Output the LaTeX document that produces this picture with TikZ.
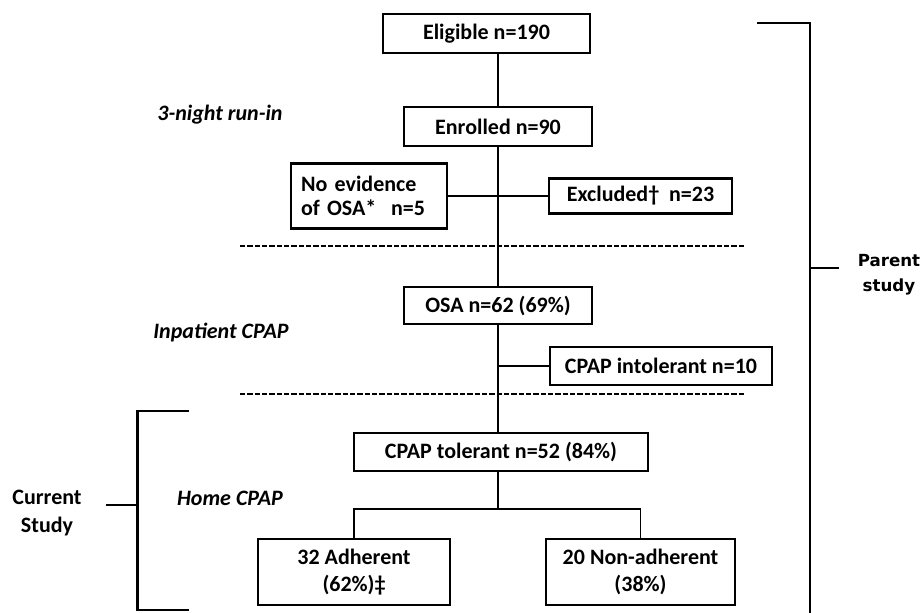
\documentclass[tikz,border=0pt]{standalone}
\usepackage{fontspec}
\setmainfont{Carlito}
\newfontfamily\parentfont{DejaVu Sans}
\tikzset{every picture/.style={line width=0.75pt}}

\begin{document}
\begin{tikzpicture}[x=0.75pt,y=-0.75pt,
    flowbox/.style={draw, line width=2pt, inner sep=0pt, align=center,
        font=\fontsize{16.5}{20}\selectfont\bfseries},
    link/.style={line width=1.2pt},
    phase/.style={font=\fontsize{16.5}{20}\selectfont\bfseries\itshape},
    divider/.style={line width=1pt, dash pattern={on 4pt off 1.5pt}},
    bracket/.style={line width=1.6pt}]
    \useasboundingbox (0,0) rectangle (921,613);
    % boxes
    \node[flowbox, minimum width=155.25pt, minimum height=29.25pt] (elig) at (486.5,33.5) {Eligible n=190};
    \node[flowbox, minimum width=141pt, minimum height=29.25pt] (enrol) at (498,126.5) {Enrolled n=90};
    \node[flowbox, text width=102pt, inner xsep=7.5pt, align=left, minimum height=48.75pt,
        font=\fontsize{16.5}{17.5}\selectfont\bfseries] (noosa) at (369,196) {No evidence\\of OSA*~~n=5};
    \node[flowbox, minimum width=137.25pt, minimum height=26.25pt] (excl) at (640.5,196) {Excluded†~~n=23};
    \node[flowbox, minimum width=141pt, minimum height=27.75pt] (osa) at (498,305.5) {OSA n=62 (69\%)};
    \node[flowbox, minimum width=166.5pt, minimum height=28.5pt] (intol) at (661,366) {CPAP intolerant n=10};
    \node[flowbox, minimum width=220.5pt, minimum height=28.5pt] (toler) at (501,452) {CPAP tolerant n=52 (84\%)};
    \node[flowbox, minimum width=144pt, minimum height=49.5pt] (adher) at (354,572) {32 Adherent\\(62\%)‡};
    \node[flowbox, minimum width=141.75pt, minimum height=49.5pt] (nonad) at (640.5,572) {20 Non-adherent\\(38\%)};
    % phases
    \node[phase] (runin) at (220,115) {3-night run-in};
    \node[phase] (inpat) at (221,333) {Inpatient CPAP};
    \node[phase] (home) at (230,498) {Home CPAP};
    \draw[divider] (240,246) -- (745,246);
    \draw[divider] (240,394) -- (745,394);
    % connectors
    \draw[link] (elig.south -| enrol.north) -- (enrol.north);
    \draw[link] (enrol.south) -- (osa.north);
    \draw[link] (noosa.east) -- (excl.west);
    \coordinate (tap) at (osa.south |- intol.west);
    \draw[link] (osa.south) -- (toler.north -| osa.south);
    \draw[link] (tap) -- (intol.west);
    \coordinate (split) at (498,509);
    \draw[link] (toler.south -| split) -- (split);
    \draw[link] (adher.north) |- (split) -| (nonad.north);
    \draw[line width=2pt] (adher.north |- split) -- (nonad.north |- split);
    % study brackets
    \draw[bracket, line width=2.2pt] (757,23) -- (810,23) -- (810,613);
    \draw[bracket] (810,268) -- (839,268);
    \node[font=\parentfont\fontsize{12.5}{19}\selectfont\bfseries, align=center] (parent) at (889,275) {Parent\\study};
    \draw[bracket] (189,411) -- (137.5,411) -- (137.5,610) -- (189,610);
    \draw[bracket] (106,505) -- (137.5,505);
    \node[font=\fontsize{16.5}{21}\selectfont\bfseries, align=center] (current) at (47,513) {Current\\Study};
\end{tikzpicture}
\end{document}
